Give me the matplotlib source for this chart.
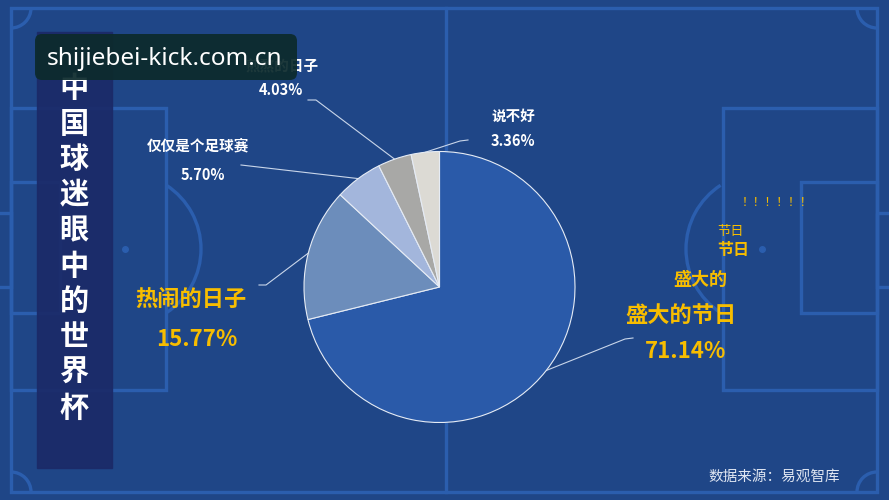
import numpy as np
import matplotlib.pyplot as plt
from matplotlib.patches import Rectangle, Arc, FancyBboxPatch

plt.rcParams['font.family'] = ['Noto Sans CJK SC', 'DejaVu Sans']

# data
labels = ['盛大的节日', '热闹的日子', '仅仅是个足球赛', '煎熬的日子', '说不好']
values = [71.14, 15.77, 5.70, 4.03, 3.36]
colors = ['#2a5aa9', '#6c8dbb', '#a3b6dc', '#a8a8a6', '#dcdad4']
title_chars = list('中国球迷眼中的世界杯')
source = '数据来源：易观智库'

W, H = 889, 500
fig = plt.figure(figsize=(W / 100, H / 100), dpi=100)
fig.patch.set_facecolor('#1f4687')

# background axes in pixel coords (top-left origin)
bg = fig.add_axes([0, 0, 1, 1])
bg.set_xlim(0, W)
bg.set_ylim(H, 0)
bg.axis('off')
bg.set_facecolor('#1f4687')

line_c = '#2b5eae'
lw = 2.4
def rect(x0, y0, x1, y1, **kw):
    bg.add_patch(Rectangle((x0, y0), x1 - x0, y1 - y0, fill=False, ec=line_c, lw=lw, **kw))

# football pitch
rect(11, 8, 877, 492)
bg.plot([446, 446], [8, 492], color=line_c, lw=lw)
rect(11, 108, 166, 390)
rect(11, 182, 60, 313)
rect(-5, 213, 11, 287)
rect(723, 108, 877, 390)
rect(801, 182, 877, 313)
rect(877, 213, 895, 287)
bg.add_patch(Arc((125, 249), 152, 152, theta1=-57, theta2=57, color=line_c, lw=lw))
bg.add_patch(Arc((762, 249), 152, 152, theta1=123, theta2=237, color=line_c, lw=lw))
bg.plot([125, 762], [249, 249], 'o', color=line_c, ms=4)
for px, py, t1, t2 in [(11, 8, 0, 90), (877, 8, 90, 180), (11, 492, 270, 360), (877, 492, 180, 270)]:
    bg.add_patch(Arc((px, py), 40, 40, theta1=t1, theta2=t2, color=line_c, lw=lw))

# title bar
bg.add_patch(Rectangle((37, 32), 75, 436, color='#1b2a68', alpha=0.92, zorder=3))
for i, ch in enumerate(title_chars):
    bg.text(74, 88 + i * 35.5, ch, color='white', fontsize=21, fontweight='bold',
            ha='center', va='center', zorder=4)

# pie
cx, cy, r = 439.5, 287.0, 135.5
ax = fig.add_axes([(cx - r) / W, (H - cy - r) / H, 2 * r / W, 2 * r / H])
wedges, _ = ax.pie(values, colors=colors, startangle=90, counterclock=False,
                   wedgeprops=dict(edgecolor='#e6ecf5', linewidth=0.8))
ax.set_xlim(-1, 1)
ax.set_ylim(-1, 1)
ax.axis('off')

# leader lines from wedge mid-angles
def edge_point(w):
    ang = np.deg2rad((w.theta1 + w.theta2) / 2)
    return cx + r * np.cos(ang), cy - r * np.sin(ang)

line_paths = [
    [(625, 339), (633, 338)],
    [(266, 285), (259, 285)],
    [(241, 165)],
    [(316, 100), (308, 100)],
    [(460, 141), (468, 140)],
]
for w, path in zip(wedges, line_paths):
    pts = [edge_point(w)] + path
    bg.plot([p[0] for p in pts], [p[1] for p in pts], color='#c9d6ea', lw=0.8, zorder=5)

yellow = '#f7bd00'
# labels
bg.text(681, 315, labels[0], color=yellow, fontsize=16, fontweight='bold', ha='center', va='center')
bg.text(686, 352, f'{values[0]:.2f}%', color=yellow, fontsize=16, fontweight='bold', ha='center', va='center')
bg.text(191, 300, labels[1], color=yellow, fontsize=16, fontweight='bold', ha='center', va='center')
bg.text(197, 339, f'{values[1]:.2f}%', color=yellow, fontsize=16, fontweight='bold', ha='center', va='center')
bg.text(198, 145, labels[2], color='white', fontsize=10.5, fontweight='bold', ha='center', va='center')
bg.text(203, 175, f'{values[2]:.2f}%', color='white', fontsize=10.5, fontweight='bold', ha='center', va='center')
bg.text(282, 66, labels[3], color='white', fontsize=10.5, fontweight='bold', ha='center', va='center')
bg.text(281, 90, f'{values[3]:.2f}%', color='white', fontsize=10.5, fontweight='bold', ha='center', va='center')
bg.text(513, 116, labels[4], color='white', fontsize=10.5, fontweight='bold', ha='center', va='center')
bg.text(513, 141, f'{values[4]:.2f}%', color='white', fontsize=10.5, fontweight='bold', ha='center', va='center')

# decorative text
bg.text(701, 279, '盛大的', color=yellow, fontsize=13, fontweight='bold', ha='center', va='center')
bg.text(733, 250, '节日', color=yellow, fontsize=11.5, fontweight='bold', ha='center', va='center')
bg.text(730, 232, '节日', color=yellow, fontsize=9.5, ha='center', va='center')
bg.text(777, 203, '！！！！！！', color=yellow, fontsize=8.5, ha='center', va='center')

bg.text(774, 477, source, color='#dfe6f2', fontsize=10.5, ha='center', va='center')

# watermark
bg.add_patch(FancyBboxPatch((35, 34), 262, 46, boxstyle='round,pad=0,rounding_size=7',
                            fc='#0c2a2c', ec='none', alpha=0.93, zorder=6))
bg.text(165, 59, 'shijiebei-kick.com.cn', color='white', fontsize=17.5,
        family=['Noto Sans', 'DejaVu Sans'], ha='center', va='center', zorder=7)

fig.savefig('out.png', dpi=100, facecolor=fig.get_facecolor())
